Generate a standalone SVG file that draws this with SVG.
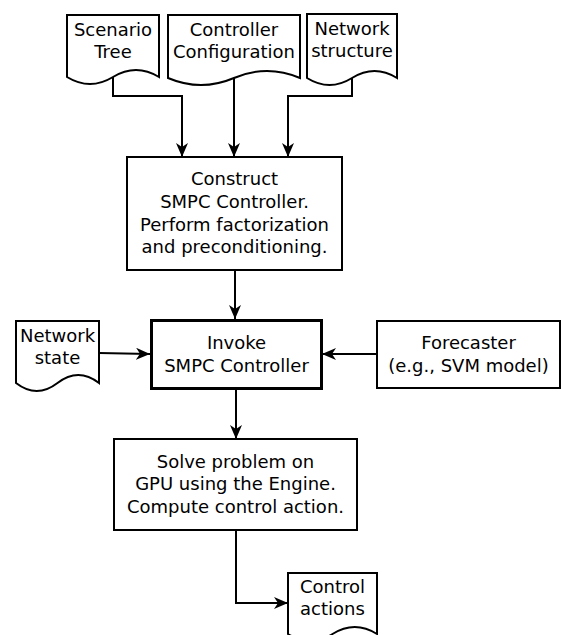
<svg xmlns="http://www.w3.org/2000/svg" width="561" height="635" viewBox="0 0 561 635">
<style>
.shape{fill:#fff;stroke:#000;stroke-width:2}
.thick{fill:#fff;stroke:#000;stroke-width:3}
.lbl{font-family:"DejaVu Sans",sans-serif;font-size:18px;fill:#000;text-anchor:middle}
.conn{fill:none;stroke:#000;stroke-width:2;marker-end:url(#arr)}
</style>
<defs>
<marker id="arr" viewBox="0 0 14 12" refX="14" refY="6" markerWidth="14" markerHeight="12" markerUnits="userSpaceOnUse" orient="auto">
<path d="M0,0 L14,6 L0,12 L4,6 Z" fill="#000"/>
</marker>
</defs>
<rect width="561" height="635" fill="#fff"/>
<g id="connectors">
<path class="conn" d="M113,77 V96 H182 V157"/>
<path class="conn" d="M234,78 V157"/>
<path class="conn" d="M352,78 V96 H288 V157"/>
<path class="conn" d="M235,270 V319"/>
<path class="conn" d="M99,353 L150,354"/>
<path class="conn" d="M377,354 H322"/>
<path class="conn" d="M236,389 V439"/>
<path class="conn" d="M236,530 V603 H288"/>
</g>
<g id="scenario-tree">
<path class="shape" d="M67,15 H159 V77 Q136,63 113,77 Q90,91 67,77 Z"/>
<text class="lbl" x="113" y="36">Scenario</text>
<text class="lbl" x="113" y="58">Tree</text>
</g>
<g id="controller-configuration">
<path class="shape" d="M168,15 H300 V78 Q267,64 234,78 Q201,92 168,78 Z"/>
<text class="lbl" x="234" y="36">Controller</text>
<text class="lbl" x="234" y="58">Configuration</text>
</g>
<g id="network-structure">
<path class="shape" d="M307,14 H397 V78 Q374.5,64 352,78 Q329.5,92 307,78 Z"/>
<text class="lbl" x="352" y="35">Network</text>
<text class="lbl" x="352" y="57">structure</text>
</g>
<g id="construct">
<rect class="shape" x="127" y="157" width="215" height="113"/>
<text class="lbl" x="234.5" y="185">Construct</text>
<text class="lbl" x="234.5" y="208">SMPC Controller.</text>
<text class="lbl" x="234.5" y="231">Perform factorization</text>
<text class="lbl" x="234.5" y="253">and preconditioning.</text>
</g>
<g id="network-state">
<path class="shape" d="M16,321 H99 V383 Q78.25,367 57.5,383 Q36.75,399 16,383 Z"/>
<text class="lbl" x="57.5" y="342">Network</text>
<text class="lbl" x="57.5" y="364">state</text>
</g>
<g id="invoke">
<rect class="thick" x="151.5" y="320.5" width="170" height="68"/>
<text class="lbl" x="236.5" y="349">Invoke</text>
<text class="lbl" x="236.5" y="372">SMPC Controller</text>
</g>
<g id="forecaster">
<rect class="shape" x="377" y="321" width="183" height="67"/>
<text class="lbl" x="468.5" y="349">Forecaster</text>
<text class="lbl" x="468.5" y="372">(e.g., SVM model)</text>
</g>
<g id="solve">
<rect class="shape" x="114" y="439" width="243" height="91"/>
<text class="lbl" x="235.5" y="468">Solve problem on</text>
<text class="lbl" x="235.5" y="490">GPU using the Engine.</text>
<text class="lbl" x="235.5" y="513">Compute control action.</text>
</g>
<g id="control-actions">
<path class="shape" d="M288,573 H377 V634 Q354.75,620 332.5,634 Q310.25,648 288,634 Z"/>
<text class="lbl" x="332.5" y="593">Control</text>
<text class="lbl" x="332.5" y="615">actions</text>
</g>
</svg>
